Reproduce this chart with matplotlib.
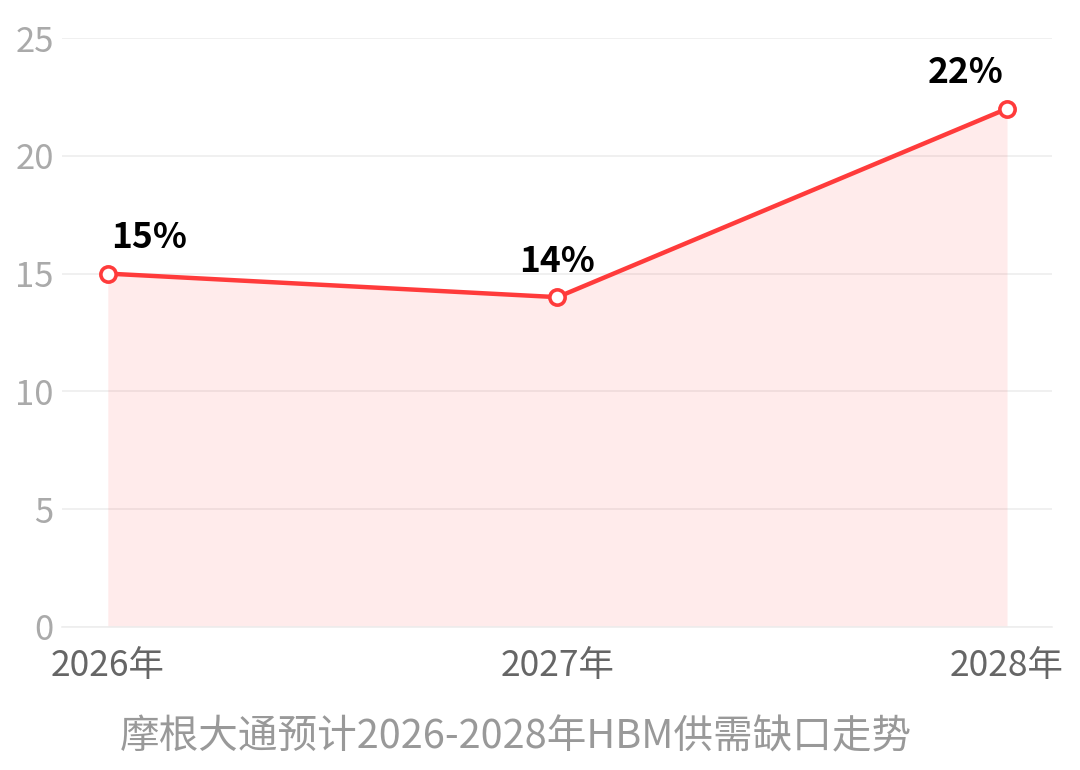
import matplotlib
matplotlib.use("Agg")
import matplotlib.pyplot as plt

# === DATA ===
years = ["2026年", "2027年", "2028年"]
gap_pct = [15, 14, 22]
point_labels = ["15%", "14%", "22%"]
y_ticks = [0, 5, 10, 15, 20, 25]
title = "摩根大通预计2026-2028年HBM供需缺口走势"

plt.rcParams['font.family'] = ['Noto Sans CJK SC', 'DejaVu Sans']

RED = '#ff3b3b'

fig = plt.figure(figsize=(10.8, 7.7), dpi=100)
ax = fig.add_axes([62 / 1080, 1 - 627 / 770, (1052 - 62) / 1080, (627 - 38) / 770])

x = list(range(len(years)))
ax.fill_between(x, 0, gap_pct, color=RED, alpha=0.1, linewidth=0, zorder=1)
ax.plot(x, gap_pct, color=RED, linewidth=3.2, zorder=3,
        marker='o', markersize=11, markerfacecolor='white',
        markeredgecolor=RED, markeredgewidth=2.6)

# labels sit above the points, end ones pushed inward
offsets = [(30, 26), (0, 26), (-30, 26)]
for xi, v, lab, off in zip(x, gap_pct, point_labels, offsets):
    ax.annotate(lab, (xi, v), xytext=off, textcoords='offset points',
                ha='center', va='center', fontsize=25.5, fontweight='bold',
                color='black', zorder=4)

ax.set_xlim(-0.102, 2.1)
ax.set_ylim(0, 25)
ax.set_yticks(y_ticks)
ax.set_xticks(x)
ax.set_xticklabels(years)

ax.grid(axis='y', color='#eeeeee', linewidth=1.2, zorder=0)
ax.set_axisbelow(True)
for side in ['top', 'right', 'left']:
    ax.spines[side].set_visible(False)
ax.spines['bottom'].set_color('#eeeeee')
ax.spines['bottom'].set_linewidth(1.2)

ax.tick_params(axis='y', length=0, pad=6, labelsize=25, labelcolor='#aaaaaa')
ax.tick_params(axis='x', length=0, pad=15, labelsize=25.5, labelcolor='#666666')

fig.text(120 / 1080, 1 - 737 / 770, title, ha='left', va='center',
         fontsize=28.5, color='#999999')

fig.savefig("out.png", dpi=100)
